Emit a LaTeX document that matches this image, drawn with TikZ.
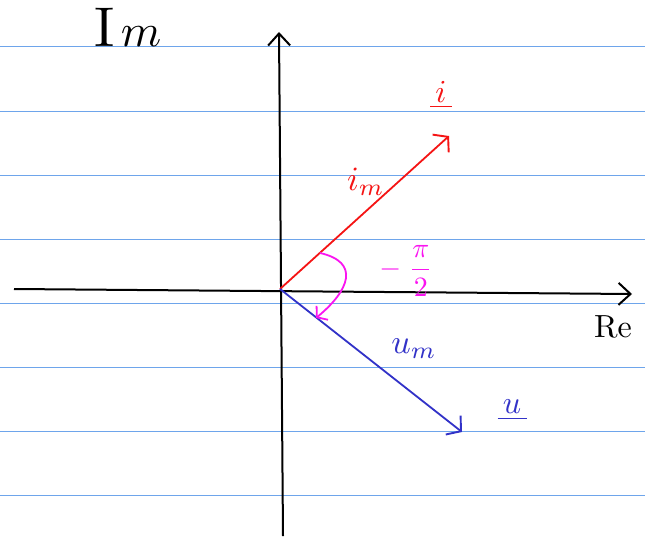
\documentclass[tikz,border=0pt]{standalone}
\usepackage{amsmath}
\usetikzlibrary{arrows.meta}
\definecolor{rule}{RGB}{110,165,235}
\definecolor{vred}{RGB}{245,20,20}
\definecolor{vblue}{RGB}{50,50,200}
\definecolor{vmag}{RGB}{250,20,240}
\tikzset{
  ruleline/.style={rule, line width=1pt},
  axis/.style={black, line width=2pt, -{Straight Barb[length=12pt,width=22pt,line width=2pt]}},
  vec/.style={line width=1.8pt, -{Straight Barb[length=10pt,width=24pt,line width=1.9pt]}},
  lbl/.style={inner sep=1pt},
}
\begin{document}
\begin{tikzpicture}[x=1pt,y=-1pt]
\useasboundingbox (0,0) rectangle (645,543);
\fill[white] (0,0) rectangle (645,543);
% ruled lines
\foreach \yy in {47,111,175,239,303,367,431,495}
  \draw[ruleline] (0,\yy) -- (645,\yy);
% coordinates
\coordinate (O) at (280,289);
\coordinate (xl) at (14,289);
\coordinate (xr) at (632,294);
\coordinate (yb) at (283,536);
\coordinate (yt) at (279,32);
\coordinate (I) at (449,136);
\coordinate (U) at (462,432);
% axes
\draw[axis] (xl) -- (xr);
\draw[axis] (yb) -- (yt);
% vectors
\draw[vec, vred] (O) -- (I);
\draw[vec, vblue] (O) -- (U);
% labels
\node[lbl] (Im) at (128,27) {\scalebox{5.6}{I}\hspace{6pt}\scalebox{4.6}{$m$}};
\node[lbl] (Re) at (613,327) {\scalebox{3.2}{Re}};
\node[lbl, vred] (ilab) at (441,95) {\scalebox{3.2}{\underline{\,$i$\,}}};
\node[lbl, vred] (imlab) at (366,182) {\scalebox{3.4}{$i_m$}};
\node[lbl, vblue] (umlab) at (414,349) {\scalebox{3.4}{$u_m$}};
\node[lbl, vblue] (ulab) at (512,410) {\scalebox{3.2}{\underline{\,$u$\,}}};
\node[lbl, vmag] (phi) at (406,271) {\scalebox{2.8}{$-\;\dfrac{\pi}{2}$}};
% angle arrow
\coordinate (a1) at (320,253);
\coordinate (a2) at (316,318);
\draw[vmag, line width=1.8pt, -{Straight Barb[length=7pt,width=18pt,line width=1.8pt]}]
  (a1) .. controls (360,262) and (350,290) .. (a2);
\end{tikzpicture}
\end{document}
